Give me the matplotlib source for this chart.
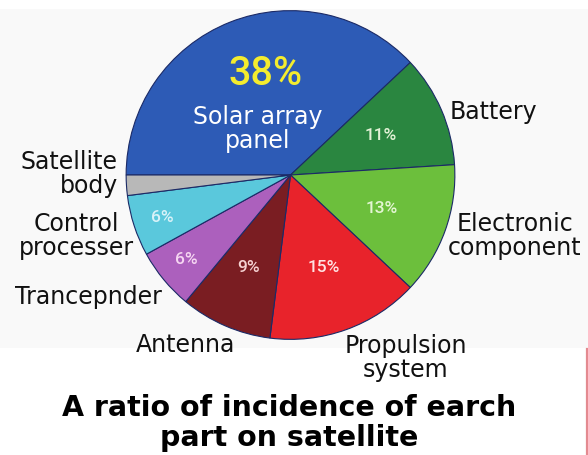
import matplotlib
matplotlib.use("Agg")
import matplotlib.pyplot as plt
from matplotlib.patches import Rectangle
from matplotlib.lines import Line2D

# Share of incidents per satellite part (%)
parts = ["Solar array\npanel", "Battery", "Electronic\ncomponent", "Propulsion\nsystem",
         "Antenna", "Trancepnder", "Control\nprocesser", "Satellite\nbody"]
shares = [38, 11, 13, 15, 9, 6, 6, 2]
colors = ["#2d5bb6", "#2a8640", "#6cbf3c", "#e8232b", "#7a1d22", "#ac60bd", "#5ac8dc", "#b8b8b8"]
pct_colors = ["#f4ec2e", "#e2f2d6", "#e4f6d4", "#ffe2e2", "#f6d2d2", "#f6d6f2", "#d8f2f8", "#ffffff"]
title = "A ratio of incidence of earch\npart on satellite"

W, H = 588, 456
fig = plt.figure(figsize=(W / 100, H / 100), dpi=100)
fig.patch.set_facecolor("white")


def fx(x):
    return x / W


def fy(y):
    return 1 - y / H


# light panel behind the pie and its labels
fig.patches.append(Rectangle((0, fy(349)), 1, fy(10) - fy(349), transform=fig.transFigure,
                             facecolor="#f9f9f9", edgecolor="none", zorder=-5))
fig.lines.append(Line2D([fx(587), fx(587)], [fy(350), 0], transform=fig.transFigure,
                        color="#e48a90", linewidth=1.6, zorder=-4))

cx, cy, r = 290.5, 176, 166
ax = fig.add_axes([fx(cx - r), fy(cy + r), 2 * r / W, 2 * r / H])
ax.set_zorder(1)
ax.set_facecolor("none")
ax.pie(shares, colors=colors, startangle=180, counterclock=False, radius=1,
       wedgeprops=dict(edgecolor="#1b2a66", linewidth=0.8))
ax.set_xlim(-1.01, 1.01)
ax.set_ylim(-1.01, 1.01)
ax.set_aspect("equal")
ax.axis("off")

font = "DejaVu Sans"
narrow = ["Roboto", "DejaVu Sans"]

# percentage labels inside the slices
pct_pos = [(265, 74), (381, 135), (382, 209), (324, 268), (249, 267), (186, 260), (162, 218)]
for i, (px, py) in enumerate(pct_pos):
    size = 28.5 if i == 0 else 12.5
    fig.text(fx(px), fy(py), f"{shares[i]}%", ha="center", va="center", fontsize=size,
             color=pct_colors[i], family=narrow, weight="medium", zorder=5)

fig.text(fx(258), fy(129), parts[0], ha="center", va="center", fontsize=17, color="white",
         family=font, linespacing=1.05, zorder=5)

# outer labels: (text index, x, y, ha)
outer = [(1, 450, 112, "left"), (2, 515, 236, "center"), (3, 406, 358, "center"),
         (4, 186, 345, "center"), (5, 15, 297, "left"), (6, 76, 236, "center"),
         (7, 118, 174, "right")]
for i, px, py, ha in outer:
    fig.text(fx(px), fy(py), parts[i], ha=ha, va="center", fontsize=17, color="#111111",
             family=font, linespacing=1.0, multialignment=ha, zorder=5)

fig.text(fx(289), fy(423), title, ha="center", va="center", fontsize=20.5, color="black",
         family=font, weight="bold", linespacing=1.05, zorder=5)

fig.savefig("out.png", dpi=100, facecolor=fig.get_facecolor())
